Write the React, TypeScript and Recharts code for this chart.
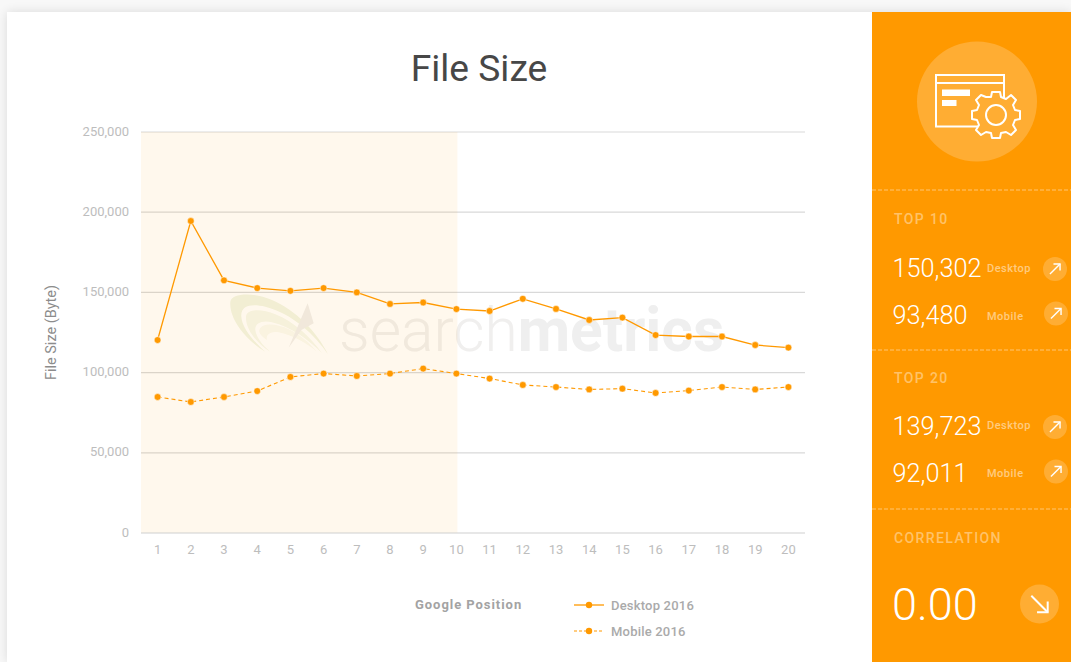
import { CartesianGrid, ComposedChart, Legend, Line, ReferenceArea, XAxis, YAxis } from "recharts";

const ORANGE = "#FF9900";
const FONT = "Roboto, sans-serif";

const positions = [1, 2, 3, 4, 5, 6, 7, 8, 9, 10, 11, 12, 13, 14, 15, 16, 17, 18, 19, 20];
const desktop2016 = [120300, 194500, 157500, 152700, 151000, 152700, 150000, 142800, 143700, 139600, 138400, 146000, 139700, 132800, 134300, 123400, 122500, 122500, 117200, 115600];
const mobile2016 = [84800, 81700, 84800, 88500, 97300, 99400, 97900, 99400, 102500, 99400, 96300, 92300, 91000, 89500, 90000, 87300, 88800, 91000, 89500, 91000];
const yTicks = [0, 50000, 100000, 150000, 200000, 250000];

const data = positions.map((p, i) => ({ position: p, desktop: desktop2016[i], mobile: mobile2016[i] }));

function renderLegend({ payload }: any) {
  return (
    <div style={{ fontFamily: FONT, fontSize: 13, color: "#aaa", width: 300, position: "relative", height: 50 }}>
      <div style={{ position: "absolute", left: 0, top: 0, fontWeight: 700, fontSize: 13, letterSpacing: 0.95, color: "#a3a3a3", lineHeight: "16px" }}>
        Google Position
      </div>
      {(payload || []).map((p: any, i: number) => (
        <div key={p.value} style={{ position: "absolute", left: 158, top: i * 26, height: 16, display: "flex", alignItems: "center" }}>
          <svg width={32} height={10} style={{ marginRight: 7 }}>
            <line x1={1} y1={5} x2={31} y2={5} stroke={ORANGE} strokeWidth={i === 0 ? 1.3 : 1} strokeDasharray={i === 0 ? undefined : "3 2"} />
            <circle cx={16} cy={5} r={3.2} fill={ORANGE} />
          </svg>
          <span style={{ fontWeight: 500, letterSpacing: 0.2, marginLeft: -1 }}>{p.value}</span>
        </div>
      ))}
    </div>
  );
}

function Watermark() {
  return (
    <svg width={872} height={662} style={{ position: "absolute", left: 0, top: 0 }}>
      <g transform="translate(222 285) scale(0.3333)">
        <path d="M25 50 C30 25 90 20 150 45 C220 75 285 140 318 208 C280 150 210 85 130 65 C90 55 55 60 58 95 C60 130 100 175 130 200 C85 175 20 110 25 50 Z" fill="#F2F5E4" />
        <path d="M72 95 C75 70 120 72 160 88 C215 110 265 155 300 205 C262 165 205 125 150 112 C120 105 98 115 100 135 C102 155 120 180 145 200 C110 180 70 135 72 95 Z" fill="#F6F8EC" />
        <path d="M112 135 C120 112 165 115 205 135 C240 152 265 178 285 200 C255 175 210 150 170 142 C145 137 130 150 135 165 C120 155 110 145 112 135 Z" fill="#FAFAF2" />
        <path d="M257 55 L275 115 L238 135 L200 188 Z" fill="#F0EEEC" />
      </g>
      <text x={339} y={351} fontFamily={FONT} fontSize={60.5} fill="#F0EFEE" fontWeight={300}>
        search
        <tspan fontWeight={700} fill="#EFEFEF">metrics</tspan>
      </text>
    </svg>
  );
}

function ArrowBadge({ cx, cy, r = 12, down = false }: { cx: number; cy: number; r?: number; down?: boolean }) {
  const s = r * 0.42;
  return (
    <g>
      <circle cx={cx} cy={cy} r={r} fill="#fff" fillOpacity={0.2} />
      {down ? (
        <g stroke="#fff" strokeWidth={2} fill="none">
          <path d={`M${cx - s} ${cy - s} L${cx + s} ${cy + s}`} />
          <path d={`M${cx + s} ${cy - s * 0.3} V${cy + s} H${cx - s * 0.3}`} />
        </g>
      ) : (
        <g stroke="#fff" strokeWidth={1.4} fill="none">
          <path d={`M${cx - s} ${cy + s} L${cx + s} ${cy - s}`} />
          <path d={`M${cx - s * 0.3} ${cy - s} H${cx + s} V${cy + s * 0.3}`} />
        </g>
      )}
    </g>
  );
}

const GEAR =
  "M992 92 L1000 92 L1001 97 L1006 99 L1011 95 L1016 100 L1013 105 L1015 110 L1020 111 L1020 119 L1015 120 L1013 125 L1016 130 L1011 135 L1006 132 L1001 133 L1000 138 L992 138 L991 133 L986 132 L981 135 L976 130 L979 125 L977 120 L972 119 L972 111 L977 110 L979 105 L976 100 L981 95 L986 97 L991 97 Z";

function SidePanel() {
  const label = { fontFamily: FONT, fontSize: 14, fontWeight: 500, letterSpacing: 1.4, fill: "#fff", fillOpacity: 0.42 };
  const small = { fontFamily: FONT, fontSize: 11, fontWeight: 500, letterSpacing: 0.5, fill: "#fff", fillOpacity: 0.5 };
  const big = { fontFamily: FONT, fontSize: 25.3, fontWeight: 300, fill: "#fff" };
  const dash = { stroke: "#fff", strokeOpacity: 0.45, strokeDasharray: "4 2" };
  return (
    <svg width={199} height={662} viewBox="872 0 199 662" style={{ position: "absolute", left: 872, top: 0 }}>
      <rect x={872} y={12} width={199} height={650} fill={ORANGE} />
      <circle cx={977} cy={101.5} r={60} fill="#FFAD33" />
      <rect x={936} y={75} width={68} height={51.5} fill="none" stroke="#fff" strokeWidth={2} />
      <line x1={936} y1={83} x2={1004} y2={83} stroke="#fff" strokeWidth={2} />
      <rect x={942} y={89.5} width={28} height={6.5} fill="#fff" />
      <rect x={942} y={100} width={14.5} height={6} fill="#fff" />
      <path d={GEAR} fill="#FFAD33" stroke="#fff" strokeWidth={2} strokeLinejoin="round" />
      <circle cx={996} cy={115} r={10} fill="none" stroke="#fff" strokeWidth={2} />

      <line x1={872} x2={1071} y1={190} y2={190} {...dash} />
      <line x1={872} x2={1071} y1={350} y2={350} {...dash} />
      <line x1={872} x2={1071} y1={509} y2={509} {...dash} />

      <text x={894} y={224} {...label}>TOP 10</text>
      <text x={892.5} y={277} {...big}>150,302</text>
      <text x={987} y={272} {...small}>Desktop</text>
      <ArrowBadge cx={1055} cy={269} />
      <text x={892.5} y={324} {...big}>93,480</text>
      <text x={987} y={320} {...small}>Mobile</text>
      <ArrowBadge cx={1056} cy={313.5} />

      <text x={894} y={383} {...label}>TOP 20</text>
      <text x={892.5} y={435} {...big}>139,723</text>
      <text x={987} y={429} {...small}>Desktop</text>
      <ArrowBadge cx={1055} cy={427} />
      <text x={892.5} y={482} {...big}>92,011</text>
      <text x={987} y={477} {...small}>Mobile</text>
      <ArrowBadge cx={1056} cy={471.5} />

      <text x={894} y={543} {...label}>CORRELATION</text>
      <text x={892} y={620} fontFamily={FONT} fontSize={45} fontWeight={300} fill="#fff">0.00</text>
      <ArrowBadge cx={1039.5} cy={604} r={19.5} down />
    </svg>
  );
}

export default function App() {
  return (
    <div style={{ position: "fixed", left: 0, top: 0, width: 1071, height: 662, overflow: "hidden", background: "#F8F8F8" }}>
      <div style={{ position: "absolute", left: 7, top: 12, width: 1064, height: 650, background: "#fff", boxShadow: "0 0 10px rgba(0,0,0,0.12)" }} />
      <Watermark />
      <div style={{ position: "absolute", left: 7, width: 944, top: 43, height: 50, textAlign: "center", fontFamily: FONT, fontSize: 37.2, color: "#474747", lineHeight: "50px" }}>
        File Size
      </div>
      <div style={{ position: "absolute", left: 0, top: 0 }}>
        <ComposedChart width={872} height={662} data={data} margin={{ top: 132, right: 67, bottom: 99, left: 40 }}>
          <ReferenceArea x1={0.5} x2={10.03} fill={ORANGE} fillOpacity={0.07} stroke="none" />
          <CartesianGrid horizontal vertical={false} stroke="#D9D9D9" strokeWidth={1.2} />
          <XAxis
            dataKey="position"
            type="number"
            domain={[0.5, 20.5]}
            ticks={positions}
            interval={0}
            height={30}
            axisLine={{ stroke: "#E2E2E2", strokeWidth: 1.2 }}
            tickLine={false}
            tickMargin={6}
            tick={{ fontFamily: FONT, fontSize: 13, fill: "#BDBDBD" }}
          />
          <YAxis
            type="number"
            domain={[0, 250000]}
            ticks={yTicks}
            width={101}
            axisLine={false}
            tickLine={false}
            tickMargin={6}
            tickFormatter={(v: number) => v.toLocaleString("en-US")}
            tick={{ fontFamily: FONT, fontSize: 13, fill: "#BDBDBD", dy: -1 }}
            label={{ value: "File Size (Byte)", angle: -90, position: "insideLeft", offset: 11, style: { fontFamily: FONT, fontSize: 14.5, fill: "#8C8C8C", textAnchor: "middle" } }}
          />
          <Legend
            layout="horizontal"
            verticalAlign="middle"
            align="center"
            content={renderLegend}
            wrapperStyle={{ left: 415, top: 597, width: 300, height: 50 }}
          />
          <Line
            dataKey="desktop"
            name="Desktop 2016"
            stroke={ORANGE}
            strokeWidth={1.3}
            dot={{ r: 3.4, fill: ORANGE, stroke: "#fff", strokeOpacity: 0.5, strokeWidth: 1 }}
            isAnimationActive={false}
          />
          <Line
            dataKey="mobile"
            name="Mobile 2016"
            stroke={ORANGE}
            strokeWidth={1.1}
            strokeDasharray="4 3"
            dot={{ r: 3.4, fill: ORANGE, stroke: "#fff", strokeOpacity: 0.5, strokeWidth: 1, strokeDasharray: "none" }}
            isAnimationActive={false}
          />
        </ComposedChart>
      </div>
      <SidePanel />
    </div>
  );
}
